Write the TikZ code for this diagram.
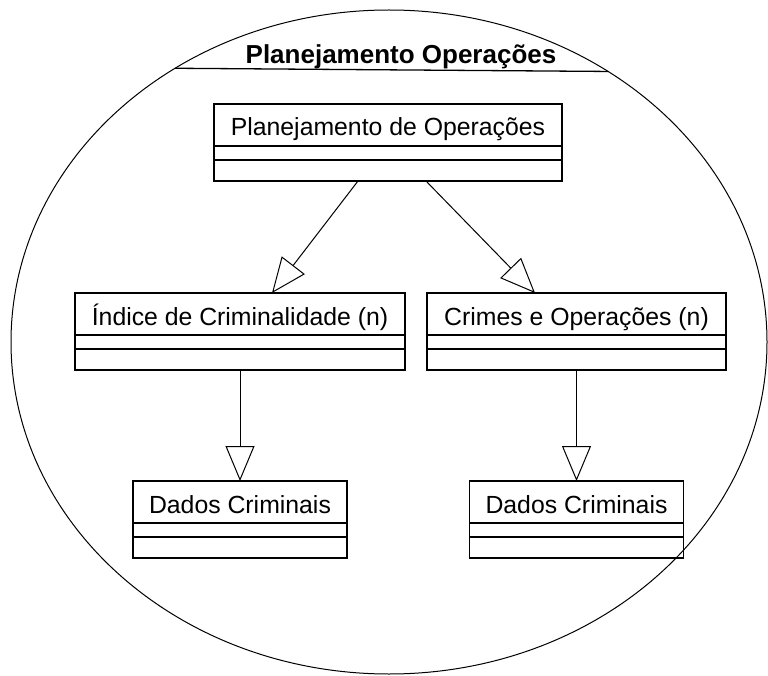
\documentclass[tikz,border=0pt]{standalone}
\usepackage{fontspec}
\setmainfont{Liberation Sans}
\usetikzlibrary{arrows.meta,shapes.geometric}
\begin{document}
\begin{tikzpicture}[x=1pt,y=-1pt,
  part/.style={draw, line width=1.5pt, inner sep=0pt, outer sep=0pt, anchor=north},
  namepart/.style={part, minimum height=42pt, text height=22pt, text depth=0pt,
    font=\fontsize{24.8}{28}\selectfont},
  slot/.style={part, minimum height=14pt},
  lastslot/.style={part, minimum height=21pt},
  inherit/.style={line width=1pt,
    -{Triangle[open, length=35pt, width=29pt, line width=1pt]}},
]
\useasboundingbox (0,0) rectangle (768,676);

% package outline and its name tab
\node[draw, ellipse, line width=1pt, inner sep=0pt, outer sep=0pt,
      minimum width=756pt, minimum height=664pt] (pkg) at (389,342) {};
\draw[line width=1.3pt] (pkg.128.86) -- (pkg.51.14);
\node[font=\bfseries\fontsize{26}{30}\selectfont, anchor=base] (title) at (401,64)
  {Planejamento Operações};

% classes
\node[namepart, minimum width=348pt] (plan) at (388,104) {Planejamento de Operações};
\node[slot, minimum width=348pt] (plan2) at (plan.south) {};
\node[lastslot, minimum width=348pt] (plan3) at (plan2.south) {};

\node[namepart, minimum width=330pt] (idx) at (240,293) {Índice de Criminalidade (n)};
\node[slot, minimum width=330pt] (idx2) at (idx.south) {};
\node[lastslot, minimum width=330pt] (idx3) at (idx2.south) {};

\node[namepart, minimum width=299pt] (cri) at (576.5,293) {Crimes e Operações (n)};
\node[slot, minimum width=299pt] (cri2) at (cri.south) {};
\node[lastslot, minimum width=299pt] (cri3) at (cri2.south) {};

\node[namepart, minimum width=214pt] (dl) at (240,481) {Dados Criminais};
\node[slot, minimum width=214pt] (dl2) at (dl.south) {};
\node[lastslot, minimum width=214pt] (dl3) at (dl2.south) {};

\node[namepart, minimum width=214pt] (dr) at (576.5,481) {Dados Criminais};
\node[slot, minimum width=214pt] (dr2) at (dr.south) {};
\node[lastslot, minimum width=214pt] (dr3) at (dr2.south) {};

% generalizations
\draw[inherit] ([xshift=-30pt]plan3.south) -- ([xshift=32pt]idx.north);
\draw[inherit] ([xshift=38pt]plan3.south) -- ([xshift=-41.5pt]cri.north);
\draw[inherit] (idx3.south) -- (dl.north);
\draw[inherit] (cri3.south) -- (dr.north);
\end{tikzpicture}
\end{document}
